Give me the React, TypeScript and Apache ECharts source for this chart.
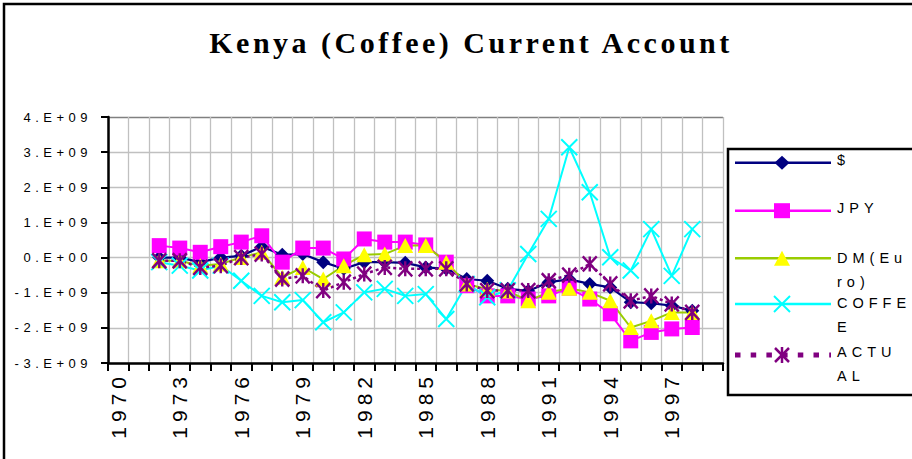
import React, { useEffect, useRef } from 'react';
import * as echarts from 'echarts';

const years = [
  '1970', '1971', '1972', '1973', '1974', '1975', '1976', '1977', '1978', '1979',
  '1980', '1981', '1982', '1983', '1984', '1985', '1986', '1987', '1988', '1989',
  '1990', '1991', '1992', '1993', '1994', '1995', '1996', '1997', '1998', '1999',
];
// data years 1972..1998
const dataYears = [
  '1972', '1973', '1974', '1975', '1976', '1977', '1978', '1979', '1980', '1981',
  '1982', '1983', '1984', '1985', '1986', '1987', '1988', '1989', '1990', '1991',
  '1992', '1993', '1994', '1995', '1996', '1997', '1998',
];
// values in units of 1e9
const usd = [0.0, 0.0, -0.13, 0.0, 0.05, 0.31, 0.08, 0.1, -0.13, -0.32, -0.13, -0.13, -0.15, -0.28, -0.32, -0.61, -0.66, -0.89, -0.95, -0.7, -0.62, -0.75, -0.85, -1.27, -1.3, -1.37, -1.51];
const jpy = [0.34, 0.27, 0.15, 0.31, 0.44, 0.62, -0.13, 0.27, 0.27, -0.04, 0.53, 0.44, 0.44, 0.36, -0.13, -0.8, -1.09, -1.09, -1.18, -1.09, -0.87, -1.18, -1.6, -2.37, -2.13, -2.03, -1.99];
const dm = [-0.09, -0.09, -0.23, -0.18, 0.0, 0.15, -0.56, -0.28, -0.61, -0.23, 0.08, 0.1, 0.34, 0.34, -0.13, -0.75, -0.9, -0.95, -1.23, -0.99, -0.87, -0.99, -1.23, -1.99, -1.8, -1.56, -1.56];
const coffee = [-0.13, -0.23, -0.37, -0.23, -0.66, -1.09, -1.27, -1.21, -1.84, -1.56, -0.99, -0.89, -1.09, -1.04, -1.75, -0.75, -1.13, -0.93, 0.1, 1.1, 3.14, 1.86, 0.01, -0.37, 0.81, -0.52, 0.81];
const actual = [-0.09, -0.09, -0.28, -0.23, 0.0, 0.1, -0.61, -0.52, -0.94, -0.7, -0.47, -0.28, -0.32, -0.32, -0.32, -0.75, -0.94, -0.94, -0.94, -0.66, -0.5, -0.18, -0.75, -1.23, -1.09, -1.32, -1.56];

const yTickValues = [-3, -2, -1, 0, 1, 2, 3, 4];
const yTickLabels = ['-3.E+09', '-2.E+09', '-1.E+09', '0.E+00', '1.E+09', '2.E+09', '3.E+09', '4.E+09'];

const seriesNames = ['$', 'JPY', 'DM(Euro)', 'COFFEE', 'ACTUAL'];
const legendLabels = ['$', 'JPY', 'DM(Eu\nro)', 'COFFE\nE', 'ACTU\nAL'];

const SCALE = 1e9;
const SANS = '"Liberation Sans", Arial, sans-serif';

const toData = (vals: number[]) => vals.map((v, i) => [dataYears[i], v * SCALE]);

const X_PATH = 'path://M0,0L10,10M10,0L0,10';
const STAR_PATH = 'path://M0,0L10,10M10,0L0,10M5,0L5,10';

export default function App() {
  const ref = useRef<HTMLDivElement>(null);

  useEffect(() => {
    const el = ref.current;
    if (!el) return;
    const chart = echarts.init(el, undefined, { renderer: 'svg' });

    const lx1 = 735;
    const lx2 = 831;
    const sx = 782;
    const ly = [162.7, 210.7, 258.3, 304, 355];
    const ty = [160, 208, 257.7, 302.7, 351.7];

    const legendGraphics: any[] = [
      {
        type: 'rect',
        shape: { x: 728, y: 149, width: 260, height: 246 },
        style: { fill: '#fff', stroke: '#000', lineWidth: 2.5 },
        z: 10,
      },
      { type: 'line', shape: { x1: lx1, y1: ly[0], x2: lx2, y2: ly[0] }, style: { stroke: '#000080', lineWidth: 2.5 }, z: 11 },
      { type: 'polygon', shape: { points: [[sx, ly[0] - 7], [sx + 7.5, ly[0]], [sx, ly[0] + 7], [sx - 7.5, ly[0]]] }, style: { fill: '#000080' }, z: 12 },
      { type: 'line', shape: { x1: lx1, y1: ly[1], x2: lx2, y2: ly[1] }, style: { stroke: '#FF00FF', lineWidth: 2.5 }, z: 11 },
      { type: 'rect', shape: { x: sx - 8, y: ly[1] - 7.5, width: 16, height: 15 }, style: { fill: '#FF00FF' }, z: 12 },
      { type: 'line', shape: { x1: lx1, y1: ly[2], x2: lx2, y2: ly[2] }, style: { stroke: '#99CC00', lineWidth: 2.5 }, z: 11 },
      { type: 'polygon', shape: { points: [[sx, ly[2] - 7.5], [sx + 8, ly[2] + 7.5], [sx - 8, ly[2] + 7.5]] }, style: { fill: '#FFFF00' }, z: 12 },
      { type: 'line', shape: { x1: lx1, y1: ly[3], x2: lx2, y2: ly[3] }, style: { stroke: '#00FFFF', lineWidth: 2.5 }, z: 11 },
      { type: 'line', shape: { x1: sx - 8, y1: ly[3] - 8, x2: sx + 8, y2: ly[3] + 8 }, style: { stroke: '#00FFFF', lineWidth: 2 }, z: 12 },
      { type: 'line', shape: { x1: sx + 8, y1: ly[3] - 8, x2: sx - 8, y2: ly[3] + 8 }, style: { stroke: '#00FFFF', lineWidth: 2 }, z: 12 },
      { type: 'line', shape: { x1: lx1, y1: ly[4], x2: lx2, y2: ly[4] }, style: { stroke: '#800080', lineWidth: 5, lineDash: [5.5, 10.2] }, z: 11 },
      { type: 'line', shape: { x1: sx - 7, y1: ly[4] - 7, x2: sx + 7, y2: ly[4] + 7 }, style: { stroke: '#800080', lineWidth: 2.5 }, z: 12 },
      { type: 'line', shape: { x1: sx + 7, y1: ly[4] - 7, x2: sx - 7, y2: ly[4] + 7 }, style: { stroke: '#800080', lineWidth: 2.5 }, z: 12 },
      { type: 'line', shape: { x1: sx, y1: ly[4] - 8, x2: sx, y2: ly[4] + 8 }, style: { stroke: '#800080', lineWidth: 2.5 }, z: 12 },
    ];
    legendLabels.forEach((t, i) => {
      legendGraphics.push({
        type: 'text',
        x: 837,
        y: ty[i] - 12,
        z: 12,
        style: {
          text: t,
          fill: '#000',
          fontSize: 14.5,
          fontFamily: SANS,
          lineHeight: 24,
          verticalAlign: 'top',
          align: 'left',
        },
      });
    });

    const option: any = {
      animation: false,
      backgroundColor: '#fff',
      title: {
        text: 'Kenya (Coffee) Current Account',
        left: 466,
        top: 37,
        textAlign: 'center',
        textVerticalAlign: 'middle',
        textStyle: {
          fontFamily: '"Liberation Serif", "Times New Roman", serif',
          fontWeight: 'bold',
          fontSize: 30,
          color: '#000',
        },
      },
      grid: {
        left: 108,
        top: 117,
        width: 615,
        height: 246,
        containLabel: false,
        outerBoundsMode: 'none',
      },
      xAxis: {
        type: 'category',
        data: years,
        boundaryGap: true,
        axisLine: { show: true, onZero: false, lineStyle: { color: '#000', width: 2.5 } },
        axisTick: { show: true, interval: 0, length: 8, inside: false, lineStyle: { color: '#000', width: 2 } },
        axisLabel: {
          interval: 2,
          rotate: 90,
          margin: 9,
          fontSize: 21,
          fontFamily: SANS,
          color: '#000',
          padding: [0, 0, 8, 0],
        },
        splitLine: { show: true, interval: 0, lineStyle: { color: '#C0C0C0', width: 1.3 } },
      },
      yAxis: {
        type: 'value',
        min: yTickValues[0] * SCALE,
        max: yTickValues[yTickValues.length - 1] * SCALE,
        interval: SCALE,
        axisLine: { show: true, lineStyle: { color: '#000', width: 2.5 } },
        axisTick: { show: true, length: 7, inside: false, lineStyle: { color: '#000', width: 2 } },
        axisLabel: {
          margin: 16,
          fontSize: 13,
          fontFamily: SANS,
          color: '#000',
          formatter: (v: number) => {
            const idx = yTickValues.indexOf(Math.round(v / SCALE));
            return idx >= 0 ? yTickLabels[idx] : '';
          },
        },
        splitLine: {
          show: true,
          lineStyle: {
            color: ['#C0C0C0', '#C0C0C0', '#C0C0C0', '#C0C0C0', '#C0C0C0', '#C0C0C0', '#C0C0C0', '#808080'],
            width: 1.3,
          },
        },
      },
      graphic: [
        {
          type: 'rect',
          shape: { x: 4, y: 4, width: 1000, height: 1000 },
          style: { fill: 'none', stroke: '#000', lineWidth: 2.5 },
          silent: true,
          z: 20,
        },
        ...legendGraphics,
      ],
      series: [
        {
          name: seriesNames[0],
          type: 'line',
          data: toData(usd),
          symbol: 'diamond',
          symbolSize: [14, 14],
          showAllSymbol: true,
          lineStyle: { color: '#000080', width: 2.2 },
          itemStyle: { color: '#000080' },
        },
        {
          name: seriesNames[1],
          type: 'line',
          data: toData(jpy),
          symbol: 'rect',
          symbolSize: [15, 15],
          showAllSymbol: true,
          lineStyle: { color: '#FF00FF', width: 2 },
          itemStyle: { color: '#FF00FF' },
        },
        {
          name: seriesNames[2],
          type: 'line',
          data: toData(dm),
          symbol: 'triangle',
          symbolSize: [16, 15],
          showAllSymbol: true,
          lineStyle: { color: '#99CC00', width: 2 },
          itemStyle: { color: '#FFFF00' },
        },
        {
          name: seriesNames[3],
          type: 'line',
          data: toData(coffee),
          symbol: X_PATH,
          symbolSize: [16, 16],
          showAllSymbol: true,
          lineStyle: { color: '#00FFFF', width: 2 },
          itemStyle: { color: '#00FFFF', borderColor: '#00FFFF', borderWidth: 2 },
        },
        {
          name: seriesNames[4],
          type: 'line',
          data: toData(actual),
          symbol: STAR_PATH,
          symbolSize: [14, 15],
          showAllSymbol: true,
          lineStyle: { color: '#800080', width: 2.5, type: [3, 3] },
          itemStyle: { color: '#800080', borderColor: '#800080', borderWidth: 2.5 },
        },
      ],
    };

    chart.setOption(option);

    const applySpacing = () => {
      el.querySelectorAll('text').forEach((node) => {
        const t = node as SVGTextElement;
        const s = t.textContent || '';
        let ls = 5;
        if (s.indexOf('Kenya') === 0) ls = 3.5;
        else if (s.indexOf('.E') >= 0) ls = 4.5;
        else if (/^\d{4}$/.test(s)) ls = 5;
        t.style.letterSpacing = ls + 'px';
      });
    };
    applySpacing();
    chart.on('finished', applySpacing);

    return () => {
      chart.dispose();
    };
  }, []);

  return (
    <div
      ref={ref}
      style={{ position: 'fixed', left: 0, top: 0, width: 912, height: 459 }}
    />
  );
}
